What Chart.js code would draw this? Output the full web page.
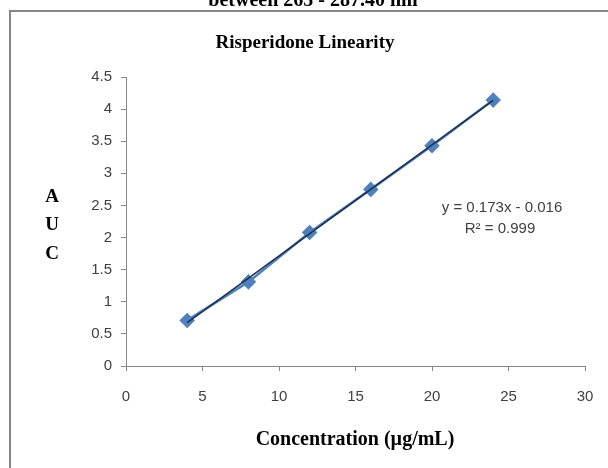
<!DOCTYPE html>
<html>
<head>
<meta charset="utf-8">
<script src="https://cdn.jsdelivr.net/npm/chart.js@4"></script>
<style>
  html, body { margin: 0; padding: 0; background: #fff; }
  #wrap { width: 608px; height: 468px; position: relative; }
</style>
</head>
<body>
<div id="wrap"><canvas id="linChart"></canvas></div>
<script>
// concentration (µg/mL) and measured AUC
const concentration = [4, 8, 12, 16, 20, 24]
const auc = [0.71, 1.31, 2.08, 2.75, 3.43, 4.14]

// linear trendline end points (y = 0.173x - 0.016)
const trendX = [4, 24]
const trendY = [0.676, 4.136]

const xTicks = [0, 5, 10, 15, 20, 25, 30]
const yTicks = [0, 0.5, 1, 1.5, 2, 2.5, 3, 3.5, 4, 4.5]

const tickFont = { family: "'Liberation Sans', Arial, sans-serif", size: 15 }

// frame and all the free text drawn straight onto the canvas
const decorations = {
  id: "decorations",
  beforeDraw(chart) {
    const c = chart.ctx
    c.save()
    c.fillStyle = "#fff"
    c.fillRect(0, 0, chart.width, chart.height)
    c.strokeStyle = "#878787"
    c.lineWidth = 2
    c.beginPath()
    c.moveTo(10, chart.height)
    c.lineTo(10, 11)
    c.lineTo(chart.width, 11)
    c.stroke()
    c.restore()
  },
  afterDraw(chart) {
    const c = chart.ctx
    c.save()
    c.fillStyle = "#000"
    c.textAlign = "center"
    c.textBaseline = "alphabetic"
    c.font = "bold 20px 'Liberation Serif', 'Times New Roman', serif"
    c.fillText("between 265 - 287.40 nm", 313, 6)
    c.font = "bold 19px 'Liberation Serif', 'Times New Roman', serif"
    c.fillText("Risperidone Linearity", 305, 48)
    c.font = "bold 20px 'Liberation Serif', 'Times New Roman', serif"
    c.fillText("Concentration (µg/mL)", 355, 445)
    c.font = "bold 19px 'Liberation Serif', 'Times New Roman', serif"
    c.fillText("A", 52, 202)
    c.fillText("U", 52, 230)
    c.fillText("C", 52, 259)
    c.fillStyle = "#404040"
    c.font = "15px 'Liberation Sans', Arial, sans-serif"
    c.fillText("y = 0.173x - 0.016", 502, 212)
    c.fillText("R² = 0.999", 500, 233)
    c.restore()
  }
}

const ctx = document.getElementById("linChart").getContext("2d")

new Chart(ctx, {
  type: "scatter",
  data: {
    datasets: [
      {
        label: "Linear trend",
        data: trendX.map((x, i) => ({ x: x, y: trendY[i] })),
        showLine: true,
        borderColor: "#1b2f4e",
        borderWidth: 1.5,
        pointRadius: 0,
      },
      {
        label: "AUC",
        data: concentration.map((x, i) => ({ x: x, y: auc[i] })),
        showLine: true,
        borderColor: "#4f81bd",
        borderWidth: 2.5,
        pointStyle: "rectRot",
        pointRadius: 6,
        pointBackgroundColor: "#4f81bd",
        pointBorderColor: "#4f81bd",
      },
    ],
  },
  options: {
    responsive: true,
    maintainAspectRatio: false,
    animation: false,
    layout: { padding: { left: 66, right: 23, top: 77, bottom: 56 } },
    plugins: {
      legend: { display: false },
      tooltip: { enabled: false },
    },
    scales: {
      x: {
        type: "linear",
        min: 0,
        max: 30,
        afterFit: (s) => {
          s.height = 46
          s.paddingLeft = 0
          s.paddingRight = 0
        },
        afterBuildTicks: (s) => { s.ticks = xTicks.map((v) => ({ value: v })) },
        grid: { drawOnChartArea: false, drawTicks: true, tickLength: 5, color: "#868686" },
        border: { color: "#868686", width: 1 },
        ticks: { font: tickFont, color: "#404040", padding: 17, maxRotation: 0 },
      },
      y: {
        type: "linear",
        min: 0,
        max: 4.5,
        afterFit: (s) => {
          s.width = 60
          s.paddingTop = 0
          s.paddingBottom = 0
        },
        afterBuildTicks: (s) => { s.ticks = yTicks.map((v) => ({ value: v })) },
        grid: { drawOnChartArea: false, drawTicks: true, tickLength: 5, color: "#868686" },
        border: { color: "#868686", width: 1 },
        ticks: { font: tickFont, color: "#404040", padding: 9, callback: (v) => String(v) },
      },
    },
  },
  plugins: [decorations],
})
</script>
</body>
</html>
